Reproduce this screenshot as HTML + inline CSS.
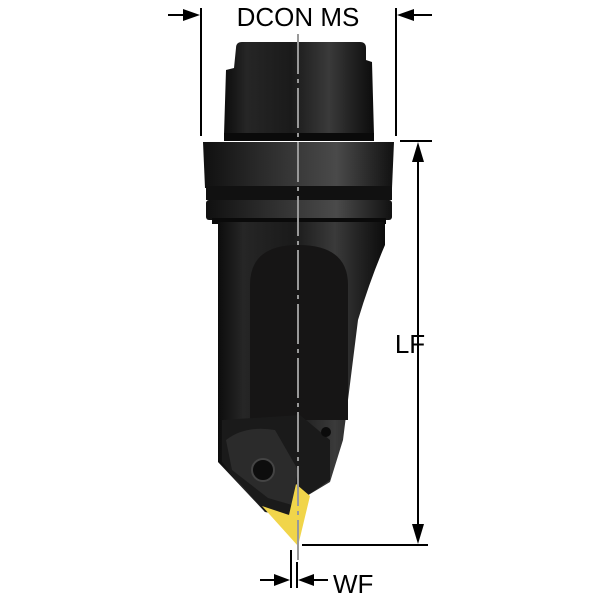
<!DOCTYPE html>
<html><head><meta charset="utf-8"><style>
html,body{margin:0;padding:0;background:#fff;}
svg{display:block;}
text{font-family:"Liberation Sans",sans-serif;fill:#000;}
</style></head><body>
<svg width="600" height="600" viewBox="0 0 600 600" xmlns="http://www.w3.org/2000/svg">
<defs>
<linearGradient id="g" x1="0" x2="1" y1="0" y2="0">
<stop offset="0" stop-color="#0c0c0c"/><stop offset="0.15" stop-color="#262626"/>
<stop offset="0.45" stop-color="#1a1a1a"/><stop offset="0.7" stop-color="#3a3a3a"/>
<stop offset="0.85" stop-color="#222"/><stop offset="1" stop-color="#0c0c0c"/>
</linearGradient>
<linearGradient id="g2" x1="0" x2="1" y1="0" y2="0">
<stop offset="0" stop-color="#101010"/><stop offset="0.3" stop-color="#2a2a2a"/>
<stop offset="0.7" stop-color="#4a4a4a"/><stop offset="1" stop-color="#111"/>
</linearGradient>
</defs>
<path d="M236,48 Q236,42 242,42 L360,42 Q366,42 366,48 L366,60 L372,62 L374,135 L224,135 L226,70 L234,68 Z" fill="url(#g)"/>
<rect x="224" y="133" width="150" height="8" fill="#0a0a0a"/>
<path d="M203,142 L394,142 L392,188 L205,188 Z" fill="url(#g2)"/>
<rect x="206" y="186" width="186" height="14" fill="#111"/>
<rect x="206" y="200" width="186" height="20" rx="3" fill="url(#g2)"/>
<rect x="212" y="218" width="174" height="6" fill="#0a0a0a"/>
<path d="M218,222 L385,222 L385,245 Q370,280 358,320 L343,440 L330,482 L305,497 L290,515 L265,512 L218,462 Z" fill="url(#g)"/>
<path d="M250,420 L250,285 Q250,245 298,245 Q348,245 348,285 L348,420 Z" fill="#161515"/>
<path d="M222,420 L300,415 L330,440 L330,480 L305,497 L290,515 L265,512 L222,462 Z" fill="#1a1a1a"/>
<path d="M226,440 Q245,425 275,430 L298,470 L292,505 L268,498 L232,470 Z" fill="#2b2b2b"/>
<circle cx="263" cy="470" r="11" fill="#0d0d0d" stroke="#444" stroke-width="2"/>
<circle cx="326" cy="432" r="5" fill="#0b0b0b"/>
<path d="M262,506 L289,515 L296,484 L310,496 L298,546 Z" fill="#f1d54a"/>
<line x1="298" y1="34" x2="298" y2="562" stroke="#999" stroke-width="2" stroke-dasharray="40,5,4,5"/>
<g stroke="#000" stroke-width="2" fill="none">
<line x1="201" y1="8" x2="201" y2="136"/>
<line x1="396" y1="8" x2="396" y2="136"/>
<line x1="168" y1="15" x2="185" y2="15"/>
<line x1="412" y1="15" x2="432" y2="15"/>
<line x1="400" y1="141" x2="432" y2="141"/>
<line x1="418" y1="160" x2="418" y2="527"/>
<line x1="302" y1="545" x2="428" y2="545"/>
<line x1="291" y1="550" x2="291" y2="588"/>
<line x1="297" y1="562" x2="297" y2="588"/>
<line x1="260" y1="580" x2="276" y2="580"/>
<line x1="312" y1="580" x2="328" y2="580"/>
</g>
<g fill="#000">
<polygon points="200,15 183,9 183,21"/>
<polygon points="397,15 414,9 414,21"/>
<polygon points="418,142 412,162 424,162"/>
<polygon points="418,544 412,524 424,524"/>
<polygon points="290,580 274,574 274,586"/>
<polygon points="298,580 314,574 314,586"/>
</g>
<text x="298" y="26" font-size="26" text-anchor="middle">DCON MS</text>
<text x="410" y="353" font-size="26" text-anchor="middle">LF</text>
<text x="333" y="593" font-size="26">WF</text>
</svg>
</body></html>
